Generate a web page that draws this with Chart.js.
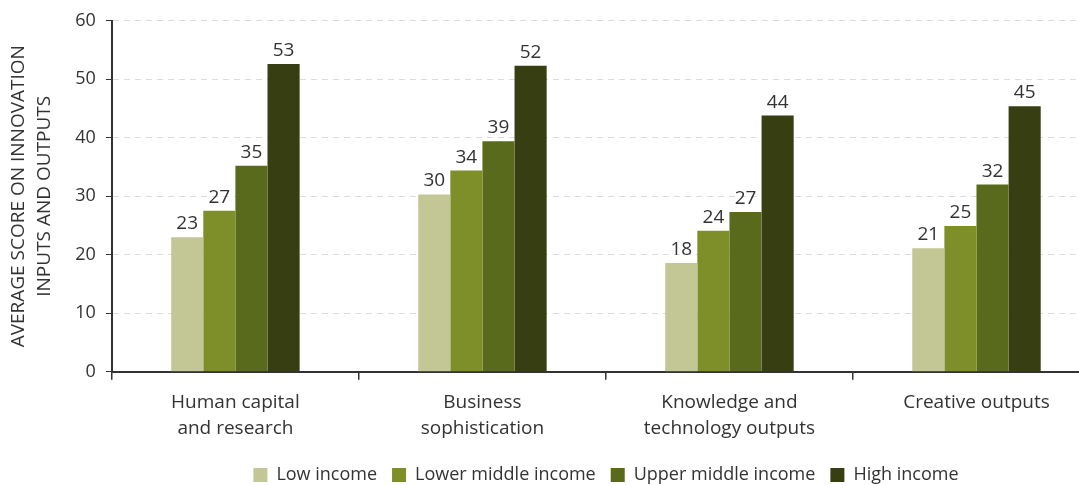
<!DOCTYPE html>
<html>
<head>
<meta charset="utf-8">
<script src="https://cdn.jsdelivr.net/npm/chart.js@4.4.0/dist/chart.umd.min.js"></script>
<style>
  html, body { margin: 0; padding: 0; background: #fff; overflow: hidden; }
  #wrap { width: 1100px; height: 485px; }
</style>
</head>
<body>
<div id="wrap"><canvas id="grafico" width="1100" height="485"></canvas></div>
<script>
// categorias y series
const categorias = [
    ['Human capital', 'and research'],
    ['Business', 'sophistication'],
    ['Knowledge and', 'technology outputs'],
    'Creative outputs'
];
const series = ['Low income', 'Lower middle income', 'Upper middle income', 'High income'];
const colores = ['#c3c796', '#7e8e28', '#5a6a1d', '#363e12'];

const lowIncome = [23.0, 30.3, 18.6, 21.1];
const lowerMiddle = [27.5, 34.4, 24.1, 24.9];
const upperMiddle = [35.2, 39.4, 27.3, 32.0];
const highIncome = [52.6, 52.3, 43.8, 45.4];

// etiquetas que se muestran arriba de cada barra
const etiquetasLow = ['23', '30', '18', '21'];
const etiquetasLowerMiddle = ['27', '34', '24', '25'];
const etiquetasUpperMiddle = ['35', '39', '27', '32'];
const etiquetasHigh = ['53', '52', '44', '45'];

const yTicks = [0, 10, 20, 30, 40, 50, 60];

const valores = [lowIncome, lowerMiddle, upperMiddle, highIncome];
const etiquetas = [etiquetasLow, etiquetasLowerMiddle, etiquetasUpperMiddle, etiquetasHigh];

const fuente = '"Open Sans", Lato, sans-serif';
const gris = '#333333';

/* ------------------------ etiquetas sobre las barras ----------------------- */
const etiquetasBarras = {
    id: 'etiquetasBarras',
    afterDatasetsDraw(chart) {
        const ctx = chart.ctx;
        ctx.save();
        ctx.font = '19px ' + fuente;
        ctx.fillStyle = gris;
        ctx.textAlign = 'center';
        ctx.textBaseline = 'alphabetic';
        chart.data.datasets.forEach((ds, i) => {
            chart.getDatasetMeta(i).data.forEach((bar, j) => {
                ctx.fillText(etiquetas[i][j], bar.x, bar.y - 8);
            });
        });
        ctx.restore();
    }
};

function crearGrafico(contenedor) {
    let canvasGrafico = document.getElementById(contenedor);

    new Chart(canvasGrafico, {
        type: 'bar',
        data: {
            labels: categorias,
            datasets: series.map((s, i) => ({
                label: s,
                data: valores[i],
                backgroundColor: colores[i],
                borderWidth: 0,
                categoryPercentage: 0.52,
                barPercentage: 1.0
            }))
        },
        plugins: [etiquetasBarras],
        options: {
            responsive: false,
            animation: false,
            // el padding de abajo negativo baja la leyenda hasta el borde
            layout: { padding: { top: 15, left: 6, right: 0, bottom: -9 } },
            plugins: {
                tooltip: { enabled: false },
                legend: {
                    position: 'bottom',
                    fullSize: false,
                    labels: {
                        font: { family: fuente, size: 18 },
                        color: gris,
                        boxWidth: 14,
                        boxHeight: 14,
                        padding: 15
                    }
                }
            },
            scales: {
                x: {
                    grid: {
                        display: true,
                        drawOnChartArea: false,
                        color: gris,
                        tickLength: 8,
                        lineWidth: 1.5
                    },
                    border: { color: gris, width: 2 },
                    ticks: {
                        font: { family: fuente, size: 19, lineHeight: 1.35 },
                        color: gris,
                        padding: 10,
                        maxRotation: 0,
                        autoSkip: false
                    }
                },
                y: {
                    min: 0,
                    max: 60,
                    afterBuildTicks: (axis) => { axis.ticks = yTicks.map(v => ({ value: v })); },
                    grid: {
                        color: '#dcdcdc',
                        tickColor: gris,
                        tickLength: 6,
                        tickBorderDash: [],
                        lineWidth: 1
                    },
                    border: { color: gris, width: 2, dash: [6, 5] },
                    ticks: {
                        font: { family: fuente, size: 18 },
                        color: gris,
                        padding: 10
                    },
                    title: {
                        display: true,
                        text: ['AVERAGE SCORE ON INNOVATION', 'INPUTS AND OUTPUTS'],
                        font: { family: fuente, size: 19, lineHeight: 1.35 },
                        color: gris,
                        padding: { top: 0, bottom: 8 }
                    }
                }
            }
        }
    });
}

window.addEventListener('load', () => {
    crearGrafico('grafico');
});
</script>
</body>
</html>
